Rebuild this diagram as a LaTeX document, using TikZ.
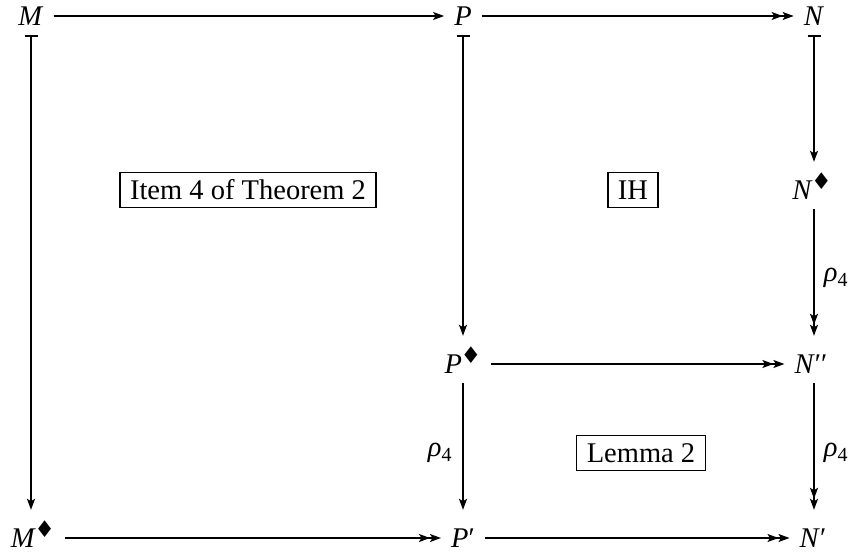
\documentclass[tikz,border=0pt]{standalone}
\usepackage{fontspec}
\setmainfont{Liberation Serif}
\newfontfamily\symfont{DejaVu Sans}
\usetikzlibrary{arrows.meta}
\newcommand{\dia}{\kern-1.5pt\raisebox{10pt}{\symfont\fontsize{23}{23}\selectfont ♦}}
\begin{document}
\begin{tikzpicture}[x=1pt,y=-1pt,
  font=\fontsize{28.5}{34}\selectfont,
  obj/.style={inner xsep=10pt, inner ysep=9.5pt, text height=19pt, text depth=0pt},
  thm/.style={draw, line width=1.4pt, inner xsep=10pt, inner ysep=7.5pt, text height=19.5pt, text depth=0pt},
  lab/.style={inner sep=0pt},
  ar/.style={line width=1.5pt, -{Stealth[length=11pt,width=8pt,inset=2.5pt]}},
  artwo/.style={line width=1.5pt, -{Stealth[length=11pt,width=8pt,inset=2.5pt] Stealth[length=11pt,width=8pt,inset=2.5pt]}},
  bartail/.style={line width=1.5pt, {Bar[width=13pt]}-{Stealth[length=11pt,width=8pt,inset=2.5pt]}},
  low/.style={shorten >=9pt}
]
\useasboundingbox (0,0) rectangle (852,552);
% objects
\node[obj] (M)   at (31,16)   {\textit{M}};
\node[obj] (P)   at (463,16)  {\textit{P}};
\node[obj] (N)   at (814,16)  {\textit{N}};
\node[obj] (Nd)  at (812,190) {\textit{N}\dia};
\node[obj] (Pd)  at (463,364) {\textit{P}\dia};
\node[obj] (Npp) at (811,364) {\textit{N}′′};
\node[obj] (Md)  at (33,538)  {\textit{M}\dia};
\node[obj] (Pp)  at (463,538) {\textit{P}′};
\node[obj] (Np)  at (813,538) {\textit{N}′};
% boxed labels
\node[thm] (b1) at (248,190) {Item 4 of Theorem 2};
\node[thm] (b2) at (633,190) {IH};
\node[thm] (b3) at (641,453) {Lemma 2};
% rho labels
\node[lab] (r1) at (836,278) {\textit{ρ}\textsubscript{4}};
\node[lab] (r2) at (836,453) {\textit{ρ}\textsubscript{4}};
\node[lab] (r3) at (440,453) {\textit{ρ}\textsubscript{4}};
% arrows
\draw[ar] (M) -- (P);
\draw[artwo] (P) -- (N);
\draw[bartail,low] (M.south -| 31,0) -- (Md.north -| 31,0);
\draw[bartail,low] (P) -- (Pd);
\draw[bartail,low] (N.south) -- (N.south |- Nd.north);
\draw[artwo,low] (Nd.south -| N.south) -- (Npp.north -| N.south);
\draw[artwo] (Pd) -- (Npp);
\draw[ar,low] (Pd) -- (Pp);
\draw[artwo,low] (Npp.south -| N.south) -- (Np.north -| N.south);
\draw[artwo] (Md) -- (Pp);
\draw[artwo] (Pp) -- (Np);
\end{tikzpicture}
\end{document}
